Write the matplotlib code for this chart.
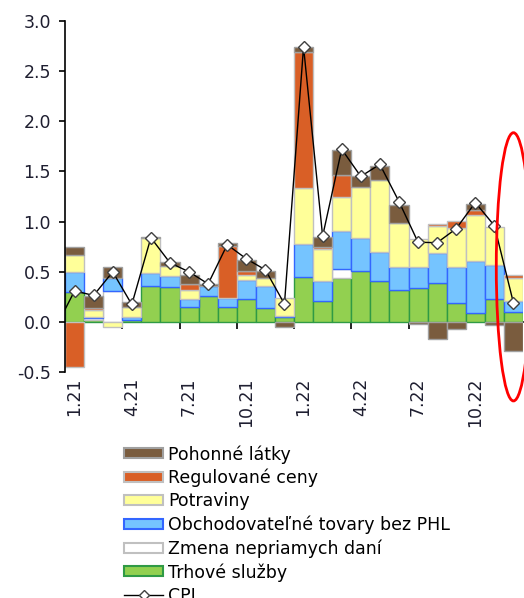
import numpy as np
import matplotlib
matplotlib.use('Agg')
import matplotlib.pyplot as plt
from matplotlib.patches import Ellipse, Patch
from matplotlib.lines import Line2D

months = ['1.21', '2.21', '3.21', '4.21', '5.21', '6.21', '7.21', '8.21', '9.21', '10.21', '11.21', '12.21',
          '1.22', '2.22', '3.22', '4.22', '5.22', '6.22', '7.22', '8.22', '9.22', '10.22', '11.22', '12.22']

# prispevky k medzimesacnej inflacii (p.b.)
trhove_sluzby = [0.30, 0.02, 0.00, 0.02, 0.36, 0.35, 0.15, 0.26, 0.15, 0.23, 0.14, 0.05,
                 0.45, 0.21, 0.44, 0.51, 0.41, 0.32, 0.335, 0.39, 0.185, 0.09, 0.23, 0.10]
nepriame_dane = [0.00, 0.02, 0.31, 0.00, 0.00, 0.00, 0.00, 0.00, 0.00, 0.00, 0.00, 0.00,
                 0.00, 0.00, 0.09, 0.00, 0.00, 0.00, 0.00, 0.00, 0.00, 0.00, 0.00, 0.00]
obchodovatelne = [0.20, 0.01, 0.13, 0.03, 0.13, 0.11, 0.08, 0.10, 0.085, 0.19, 0.22, 0.01,
                  0.33, 0.20, 0.38, 0.33, 0.285, 0.23, 0.215, 0.30, 0.365, 0.515, 0.34, 0.11]
potraviny = [0.17, 0.07, -0.045, 0.10, 0.35, 0.10, 0.09, 0.00, 0.00, 0.05, 0.08, 0.18,
             0.555, 0.315, 0.34, 0.50, 0.72, 0.44, 0.28, 0.27, 0.39, 0.46, 0.38, 0.23]
regulovane = [-0.45, 0.02, 0.00, 0.00, 0.00, 0.00, 0.06, 0.00, 0.52, 0.035, 0.00, 0.00,
              1.35, 0.025, 0.215, 0.00, 0.00, 0.00, 0.00, 0.02, 0.07, 0.055, 0.00, 0.025]
pohonne = [0.08, 0.12, 0.11, 0.05, 0.01, 0.04, 0.09, 0.02, 0.03, 0.11, 0.07, -0.05,
           0.05, 0.10, 0.25, 0.11, 0.14, 0.18, -0.02, -0.165, -0.07, 0.06, -0.03, -0.29]
# CPI, prva hodnota je 12.20 (mimo grafu)
cpi = [-0.06, 0.31, 0.265, 0.50, 0.175, 0.84, 0.59, 0.50, 0.38, 0.77, 0.63, 0.52, 0.18,
       2.74, 0.855, 1.72, 1.45, 1.57, 1.20, 0.795, 0.79, 0.93, 1.19, 0.96, 0.19]

series = [
    ('Trhové služby', trhove_sluzby, '#92d050', '#2f9a45'),
    ('Zmena nepriamych daní', nepriame_dane, '#ffffff', '#c0c0c0'),
    ('Obchodovateľné tovary bez PHL', obchodovatelne, '#75c4ff', '#3366ff'),
    ('Potraviny', potraviny, '#ffff99', '#c0c0c0'),
    ('Regulované ceny', regulovane, '#d95f26', '#c0c0c0'),
    ('Pohonné látky', pohonne, '#7a5c3e', '#a0a0a0'),
]

x = np.arange(len(months))
fig = plt.figure(figsize=(5.24, 5.98), dpi=100)
ax = fig.add_axes([65 / 524, 1 - 372.3 / 598, 458 / 524, 351.6 / 598])

pos = np.zeros(len(x))
neg = np.zeros(len(x))
for name, vals, fc, ec in series:
    v = np.array(vals)
    m = v != 0
    bottom = np.where(v >= 0, pos, neg)
    ax.bar(x[m], v[m], bottom=bottom[m], width=1.0, color=fc, edgecolor=ec, linewidth=1.0, zorder=2)
    pos = pos + np.where(v > 0, v, 0)
    neg = neg + np.where(v < 0, v, 0)

xc = np.arange(-1, len(months))
ax.plot(xc, cpi, color='black', lw=1, marker='D', ms=6.5, mfc='white', mec='#404040', mew=1, zorder=4)

ax.set_xlim(-0.5, len(months) - 0.5)
ax.set_ylim(-0.5, 3.0)
ax.set_yticks(np.arange(-0.5, 3.01, 0.5))
ax.set_yticklabels([f'{t:.1f}' for t in np.arange(-0.5, 3.01, 0.5)])
ax.set_xticks(x[::3])
ax.set_xticklabels(months[::3], rotation=90)
ax.tick_params(axis='x', length=0, pad=4, labelsize=12.5, colors='#1e1e30')
ax.tick_params(axis='y', length=4, width=1.2, pad=6, labelsize=12.5, colors='#1e1e30')
ax.tick_params(axis='y', color='black')
for s in ['top', 'right', 'bottom']:
    ax.spines[s].set_visible(False)
ax.spines['left'].set_linewidth(1.2)

# nulova os s ciarkami po stvrtrokoch
sec = ax.secondary_xaxis(0, transform=ax.transData)
sec.set_xticks(np.arange(2.5, len(months) - 1, 3))
sec.tick_params(length=5, width=1.2, labelbottom=False)
sec.spines['bottom'].set_linewidth(1.2)

# zvyraznenie posledneho mesiaca
ell = Ellipse((x[-1], 0.55), width=1.8, height=2.67, fill=False, edgecolor='red', lw=2, clip_on=False, zorder=5)
ax.add_patch(ell)

handles = [Patch(facecolor=fc, edgecolor=ec, lw=1.5) for _, _, fc, ec in series][::-1]
labels = [s[0] for s in series][::-1]
handles.append(Line2D([], [], color='black', lw=1, marker='D', ms=5, mfc='white', mec='#404040'))
labels.append('CPI')
fig.legend(handles, labels, loc='upper left', bbox_to_anchor=(124 / 524, 1 - 445 / 598), frameon=False,
           fontsize=12.5, handlelength=2.25, handleheight=0.5, handletextpad=0.3, labelspacing=0.3,
           borderpad=0, borderaxespad=0)

plt.savefig('out.png', dpi=100)
